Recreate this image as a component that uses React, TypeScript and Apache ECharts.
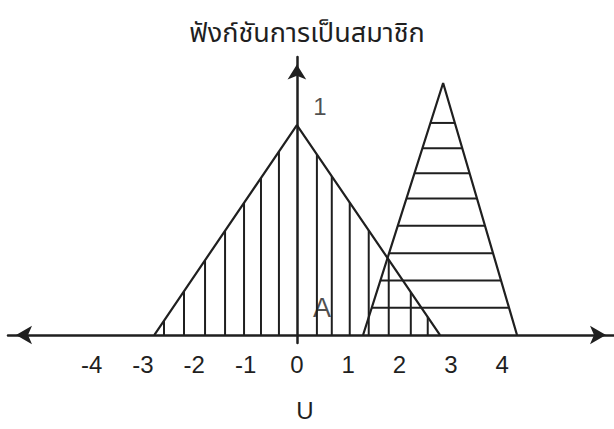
import React, { useEffect, useRef } from "react";
import * as echarts from "echarts";

// Membership triangles: [left foot, peak, right foot] on U, with peak height
const triangleA = [
  [-2.78, 0],
  [0, 1],
  [2.79, 0],
];
const triangleB = [
  [1.29, 0],
  [2.85, 1.2],
  [4.29, 0],
];

// Vertical hatching positions under triangle A
const hatchA = [-2.59, -2.2, -1.79, -1.4, -1.03, -0.7, -0.35, 0.39, 0.68, 1.03, 1.4, 1.79, 2.22, 2.55];
// Horizontal hatching levels inside triangle B
const hatchB = [0.13, 0.26, 0.39, 0.52, 0.65, 0.77, 0.89, 1.01];

const xTicks = [-4, -3, -2, -1, 0, 1, 2, 3, 4];

const titleText = "ฟังก์ชันการเป็นสมาชิก";
const setLabel = "A";
const setLabelAt = [0.49, 0.13];
const unitLabel = "1";
const unitLabelAt = [0.45, 1.086];
const universeLabel = "U";

const INK = "#1f1f1f";
const FONT = "'Liberation Sans', 'DejaVu Sans', sans-serif";

// height of a triangle's edge at position x
function edgeHeight(tri: number[][], x: number) {
  const [[a], [b, h], [c]] = tri;
  if (x <= a || x >= c) return 0;
  return x <= b ? ((x - a) / (b - a)) * h : ((c - x) / (c - b)) * h;
}

// left/right x of a triangle at level y
function edgeSpan(tri: number[][], y: number) {
  const [[a], [b, h], [c]] = tri;
  return [a + (y / h) * (b - a), c - (y / h) * (c - b)];
}

function textMark(at: number[], text: string, size: number) {
  return {
    type: "scatter",
    data: [at],
    symbolSize: 0,
    silent: true,
    label: {
      show: true,
      position: "inside",
      formatter: text,
      fontFamily: FONT,
      fontSize: size,
      color: INK,
    },
    z: 4,
  };
}

export default function App() {
  const ref = useRef<HTMLDivElement>(null);

  useEffect(() => {
    if (!ref.current) return;
    const chart = echarts.init(ref.current, null, { renderer: "svg" });
    const arrowX = [14, 16];
    const arrowY = [14, 15];

    chart.setOption({
      animation: false,
      backgroundColor: "#ffffff",
      title: {
        text: titleText,
        left: "center",
        top: 15,
        textStyle: {
          fontFamily: "'Noto Sans Thai', 'DejaVu Sans', sans-serif",
          fontWeight: "normal",
          fontSize: 27,
          color: INK,
        },
      },
      grid: { left: 8, right: 0, top: 57, bottom: 86, containLabel: false },
      xAxis: {
        type: "value",
        min: -5.63,
        max: 6.18,
        axisLine: {
          onZero: true,
          symbol: ["arrow", "arrow"],
          symbolSize: arrowX,
          symbolOffset: [arrowX[1] / 2, -arrowX[1] / 2],
          lineStyle: { color: INK, width: 2.5 },
        },
        axisTick: { show: false },
        splitLine: { show: false },
        axisLabel: {
          customValues: xTicks,
          margin: 9,
          fontFamily: FONT,
          fontSize: 24,
          color: INK,
        },
      },
      yAxis: {
        type: "value",
        min: -0.038,
        max: 1.324,
        axisLine: {
          show: true,
          onZero: true,
          symbol: ["none", "arrow"],
          symbolSize: arrowY,
          symbolOffset: [0, -arrowY[1] / 2],
          lineStyle: { color: INK, width: 2.5 },
        },
        axisTick: { show: false },
        splitLine: { show: false },
        axisLabel: { show: false },
      },
      series: [
        {
          type: "line",
          data: triangleA,
          showSymbol: false,
          lineStyle: { color: INK, width: 2.2 },
          z: 3,
        },
        {
          type: "line",
          data: triangleB,
          showSymbol: false,
          lineStyle: { color: INK, width: 2.2 },
          z: 3,
        },
        {
          type: "custom",
          data: hatchA.map((x) => [x]),
          renderItem: (params: any, api: any) => {
            const x = api.value(0);
            const p0 = api.coord([x, 0]);
            const p1 = api.coord([x, edgeHeight(triangleA, x)]);
            return {
              type: "line",
              shape: { x1: p0[0], y1: p0[1], x2: p1[0], y2: p1[1] },
              style: { stroke: INK, lineWidth: 2 },
            };
          },
          z: 2,
        },
        {
          type: "custom",
          data: hatchB.map((y) => [y]),
          renderItem: (params: any, api: any) => {
            const y = api.value(0);
            const [l, r] = edgeSpan(triangleB, y);
            const p0 = api.coord([l, y]);
            const p1 = api.coord([r, y]);
            return {
              type: "line",
              shape: { x1: p0[0], y1: p0[1], x2: p1[0], y2: p1[1] },
              style: { stroke: INK, lineWidth: 2 },
            };
          },
          z: 2,
        },
        textMark(setLabelAt, setLabel, 27),
        textMark(unitLabelAt, unitLabel, 24),
      ],
      graphic: [
        {
          type: "text",
          x: 305,
          y: 398,
          style: {
            text: universeLabel,
            textAlign: "center",
            fontFamily: FONT,
            fontSize: 24,
            fill: INK,
          },
        },
      ],
    });

    return () => chart.dispose();
  }, []);

  return (
    <div
      ref={ref}
      style={{ position: "fixed", left: 0, top: 0, width: 614, height: 429 }}
    />
  );
}
